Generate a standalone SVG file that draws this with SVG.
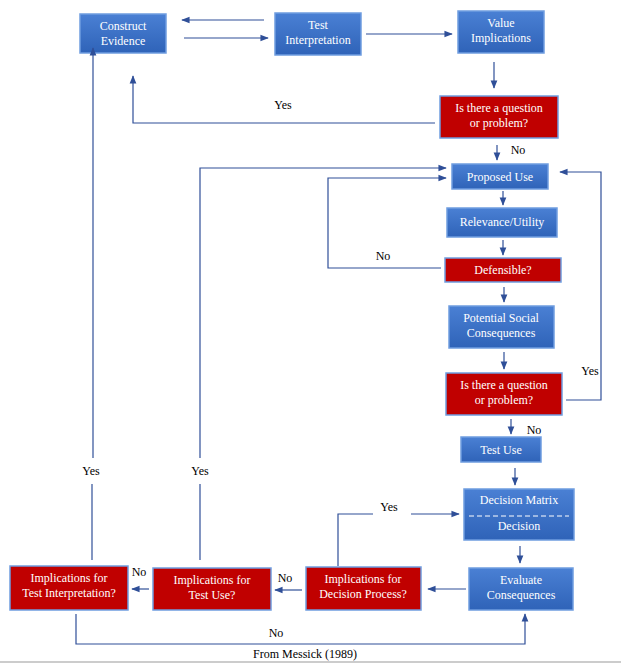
<svg xmlns="http://www.w3.org/2000/svg" width="621" height="665" viewBox="0 0 621 665">
<defs>
<linearGradient id="gb" x1="0" y1="0" x2="0" y2="1"><stop offset="0" stop-color="#4a80d4"/><stop offset="1" stop-color="#2f63b8"/></linearGradient>
<marker id="ah" viewBox="0 0 10 10" refX="9" refY="5" markerWidth="7" markerHeight="7" orient="auto"><path d="M0,1 L10,5 L0,9 z" fill="#2f4f98"/></marker>
<style>
.b rect{fill:url(#gb);stroke:#6f9de0;stroke-width:1.5}
.r rect{fill:#c00000;stroke:#6f9de0;stroke-width:1.5}
.b text,.r text{fill:#fff;font-family:"Liberation Serif",serif;font-size:12px;text-anchor:middle}
.c path{fill:none;stroke:#2f4f98;stroke-width:1.2}
.c path.a{marker-end:url(#ah)}
.l{font-family:"Liberation Serif",serif;font-size:12px;fill:#000;text-anchor:middle}
</style>
</defs>
<rect width="621" height="665" fill="#fff"/>
<g id="construct" class="b"><rect x="80" y="14" width="86" height="39"/><text x="123" y="30">Construct</text><text x="123" y="45">Evidence</text></g>
<g id="testinterp" class="b"><rect x="275" y="13" width="86" height="42"/><text x="318" y="29">Test</text><text x="318" y="44">Interpretation</text></g>
<g id="value" class="b"><rect x="458" y="11" width="86" height="42"/><text x="501" y="27">Value</text><text x="501" y="42">Implications</text></g>
<g id="q1" class="r"><rect x="440" y="96" width="118" height="42"/><text x="499" y="112">Is there a question</text><text x="499" y="127">or problem?</text></g>
<g id="proposed" class="b"><rect x="452" y="164" width="96" height="25"/><text x="500" y="181">Proposed Use</text></g>
<g id="relevance" class="b"><rect x="447" y="208" width="110" height="29"/><text x="502" y="226">Relevance/Utility</text></g>
<g id="defensible" class="r"><rect x="445" y="258" width="116" height="24"/><text x="503" y="274">Defensible?</text></g>
<g id="potential" class="b"><rect x="449" y="306" width="105" height="42"/><text x="501" y="322">Potential Social</text><text x="501" y="337">Consequences</text></g>
<g id="q2" class="r"><rect x="446" y="373" width="116" height="42"/><text x="504" y="389">Is there a question</text><text x="504" y="404">or problem?</text></g>
<g id="testuse" class="b"><rect x="461" y="437" width="80" height="25"/><text x="501" y="454">Test Use</text></g>
<g id="matrix" class="b"><rect x="464" y="489" width="110" height="51"/><text x="519" y="504">Decision Matrix</text><line x1="469" y1="516" x2="569" y2="516" stroke="#fff" stroke-width="1" stroke-dasharray="5,3"/><text x="519" y="530">Decision</text></g>
<g id="evaluate" class="b"><rect x="469" y="568" width="104" height="42"/><text x="521" y="584">Evaluate</text><text x="521" y="599">Consequences</text></g>
<g id="implproc" class="r"><rect x="306" y="567" width="115" height="43"/><text x="363" y="583">Implications for</text><text x="363" y="598">Decision Process?</text></g>
<g id="impluse" class="r"><rect x="153" y="568" width="118" height="42"/><text x="212" y="584">Implications for</text><text x="212" y="599">Test Use?</text></g>
<g id="implinterp" class="r"><rect x="10" y="566" width="118" height="44"/><text x="69" y="582">Implications for</text><text x="69" y="597">Test Interpretation?</text></g>
<g id="connectors" class="c">
<path class="a" d="M264,20 H182"/>
<path class="a" d="M184,38 H268"/>
<path class="a" d="M366,34 H452"/>
<path class="a" d="M494,62 V88"/>
<path class="a" d="M435,123 H133 V76"/>
<path class="a" d="M497,145 V160"/>
<path class="a" d="M200,560 V484 M200,458 V168 H446"/>
<path class="a" d="M441,268 H328 V178 H446"/>
<path class="a" d="M503,191 V205"/>
<path class="a" d="M503,240 V255"/>
<path class="a" d="M504,287 V302"/>
<path class="a" d="M504,352 V369"/>
<path class="a" d="M566,400 H601 V172 H560"/>
<path class="a" d="M511,419 V434"/>
<path class="a" d="M515,468 V485"/>
<path class="a" d="M520,546 V563"/>
<path class="a" d="M466,589 H428"/>
<path class="a" d="M302,590 H275"/>
<path class="a" d="M149,589 H132"/>
<path d="M338,566 V514 H373"/>
<path class="a" d="M411,514 H459"/>
<path d="M92,560 V484"/>
<path class="a" d="M93,458 V48"/>
<path class="a" d="M76,614 V644 H525 V614"/>
</g>
<g id="labels">
<text class="l" x="283" y="109">Yes</text>
<text class="l" x="518" y="154">No</text>
<text class="l" x="383" y="260">No</text>
<text class="l" x="590" y="375">Yes</text>
<text class="l" x="534" y="434">No</text>
<text class="l" x="389" y="511">Yes</text>
<text class="l" x="91" y="475">Yes</text>
<text class="l" x="200" y="475">Yes</text>
<text class="l" x="139" y="576">No</text>
<text class="l" x="285" y="582">No</text>
<text class="l" x="276" y="637">No</text>
<text class="l" x="305" y="658">From Messick (1989)</text>
</g>
<line x1="0" y1="662" x2="621" y2="662" stroke="#cccccc" stroke-width="2"/>
</svg>
